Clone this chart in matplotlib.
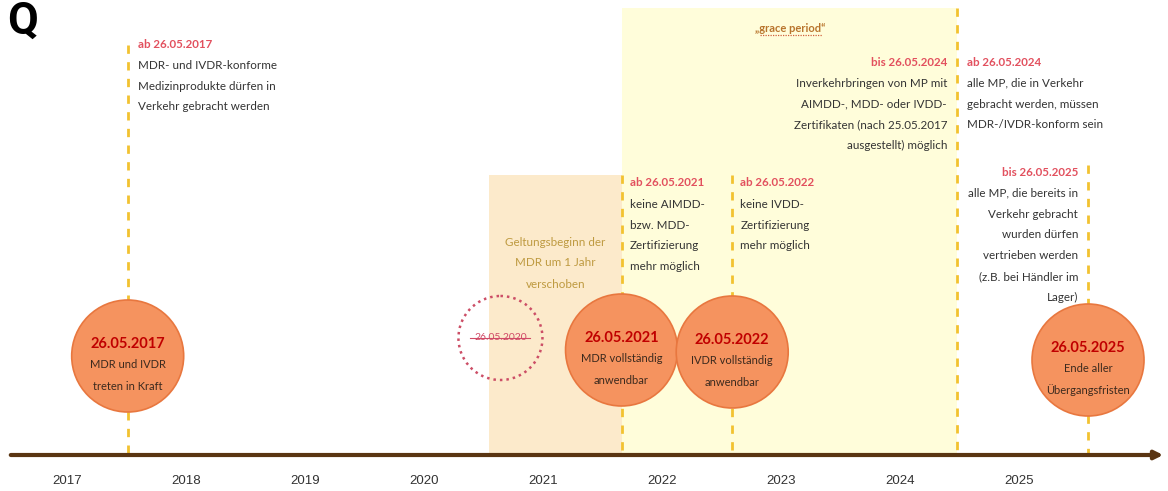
import matplotlib.pyplot as plt
from matplotlib.patches import Ellipse, Rectangle

# timeline data: x in years (ticks at year labels)
years = [2017, 2018, 2019, 2020, 2021, 2022, 2023, 2024, 2025]
milestone_x = [2017.51, 2021.66, 2022.59, 2025.58]
milestone_date = ["26.05.2017", "26.05.2021", "26.05.2022", "26.05.2025"]
milestone_text = [
    ["MDR und IVDR", "treten in Kraft"],
    ["MDR vollständig", "anwendbar"],
    ["IVDR vollständig", "anwendbar"],
    ["Ende aller", "Übergangsfristen"],
]
postponed_x = 2020.55
postponed_date = "26.05.2020"
postponed_text = ["Geltungsbeginn der", "MDR um 1 Jahr", "verschoben"]
grace_end_x = 2024.48
grace_label = "„grace period“"

note_2017 = ("ab 26.05.2017", ["MDR- und IVDR-konforme", "Medizinprodukte dürfen in",
                               "Verkehr gebracht werden"])
note_2021 = ("ab 26.05.2021", ["keine AIMDD-", "bzw. MDD-", "Zertifizierung", "mehr möglich"])
note_2022 = ("ab 26.05.2022", ["keine IVDD-", "Zertifizierung", "mehr möglich"])
note_2024_before = ("bis 26.05.2024", ["Inverkehrbringen von MP mit", "AIMDD-, MDD- oder IVDD-",
                                       "Zertifikaten (nach 25.05.2017", "ausgestellt) möglich"])
note_2024_after = ("ab 26.05.2024", ["alle MP, die in Verkehr", "gebracht werden, müssen",
                                     "MDR-/IVDR-konform sein"])
note_2025 = ("bis 26.05.2025", ["alle MP, die bereits in", "Verkehr gebracht", "wurden dürfen",
                                "vertrieben werden", "(z.B. bei Händler im", "Lager)"])

PX = 1 / 119.0  # one pixel in year units
BODY = ['Lato', 'DejaVu Sans']
RED = '#E2505E'
DARK = '#333333'
DASH = '#F2C230'
CIRCLE_FC = '#F5935F'
CIRCLE_EC = '#E8773F'

fig = plt.figure(figsize=(11.68, 4.91), dpi=100)
ax = fig.add_axes([0, 0, 1, 1])
ax.set_xlim(2017 - 67 * PX, 2017 + 1101 * PX)
ax.set_ylim(491, 0)
ax.axis('off')

# shaded periods
ax.add_patch(Rectangle((postponed_x, 175), milestone_x[1] - postponed_x, 280,
                       facecolor='#FCEACB', edgecolor='none', zorder=0))
ax.add_patch(Rectangle((milestone_x[1], 8), grace_end_x - milestone_x[1], 447,
                       facecolor='#FFFDDA', edgecolor='none', zorder=0))

# dashed guide lines
line_tops = [45, 175, 175, 165]
for x, top in zip(milestone_x, line_tops):
    ax.plot([x, x], [top, 455], color=DASH, lw=2, ls=(0, (3, 3)), zorder=1)
ax.plot([grace_end_x, grace_end_x], [8, 455], color=DASH, lw=2, ls=(0, (3, 3)), zorder=1)

# time axis
ax.annotate('', xy=(2017 + 1099 * PX, 455), xytext=(2017 - 59 * PX, 455),
            arrowprops=dict(arrowstyle='-|>', color='#5A3512', lw=3, mutation_scale=12),
            zorder=2)
for y in years:
    ax.text(y, 481, str(y), ha='center', va='center', fontsize=9.5, color=DARK,
            family=['Liberation Sans Narrow', 'Liberation Sans', 'DejaVu Sans'])


def note(x, y, block, ha='left', dy=20.8):
    title, lines = block
    ax.text(x, y, title, ha=ha, va='center', fontsize=8.3, color=RED,
            fontweight='bold', family=BODY, zorder=4)
    for i, line in enumerate(lines):
        ax.text(x, y + (i + 1) * dy + 0.5, line, ha=ha, va='center', fontsize=8.4,
                color=DARK, family=BODY, zorder=4)


note(milestone_x[0] + 10 * PX, 44, note_2017)
note(milestone_x[1] + 8 * PX, 183, note_2021)
note(milestone_x[2] + 8 * PX, 183, note_2022)
note(grace_end_x - 10 * PX, 62, note_2024_before, ha='right')
note(grace_end_x + 10 * PX, 62, note_2024_after)
note(milestone_x[3] - 10 * PX, 172, note_2025, ha='right')

for i, line in enumerate(postponed_text):
    ax.text(postponed_x + 66 * PX, 242 + i * 21, line, ha='center', va='center',
            fontsize=8.4, color='#BE9A40', family=BODY, zorder=4)

gx = grace_end_x - 167 * PX
ax.text(gx, 28, grace_label, ha='center', va='center', fontsize=8,
        color='#B8742C', fontweight='bold', family=BODY, zorder=4)
# spell-check style underline
ax.plot([gx - 30 * PX, gx + 32 * PX], [35, 35], color='#D0603C', lw=0.9,
        ls=(0, (1, 1)), zorder=4)

# milestone circles
circle_y = [356, 350, 352, 360]
for x, cy, date, lines in zip(milestone_x, circle_y, milestone_date, milestone_text):
    ax.add_patch(Ellipse((x, cy), 112 * PX, 112, facecolor=CIRCLE_FC,
                         edgecolor=CIRCLE_EC, lw=1.2, zorder=3))
    ax.text(x, cy - 12, date, ha='center', va='center', fontsize=10.5, color='#C00000',
            fontweight='bold', family=BODY, zorder=4)
    for i, line in enumerate(lines):
        ax.text(x, cy + 9 + i * 21, line, ha='center', va='center', fontsize=8,
                color='#3C2A1E', family=BODY, zorder=4)

# postponed date (dotted circle, struck through)
px_c = postponed_x + 11 * PX
ax.add_patch(Ellipse((px_c, 338), 84 * PX, 84, facecolor='none', edgecolor='#CC4E66',
                     lw=1.8, ls=(0, (1, 1.6)), zorder=3))
ax.text(px_c, 338, postponed_date, ha='center', va='center', fontsize=7.5,
        color='#D04A66', family=BODY, zorder=4)
ax.plot([px_c - 30 * PX, px_c + 30 * PX], [338, 338], color='#D04A66', lw=0.8, zorder=4)

# logo glyph top left
ax.text(2017 - 60 * PX, 22, "Q", ha='left', va='center', fontsize=32, color='black',
        fontweight='bold', family=['Roboto', 'DejaVu Sans'], zorder=4)

fig.savefig('out.png', dpi=100)
